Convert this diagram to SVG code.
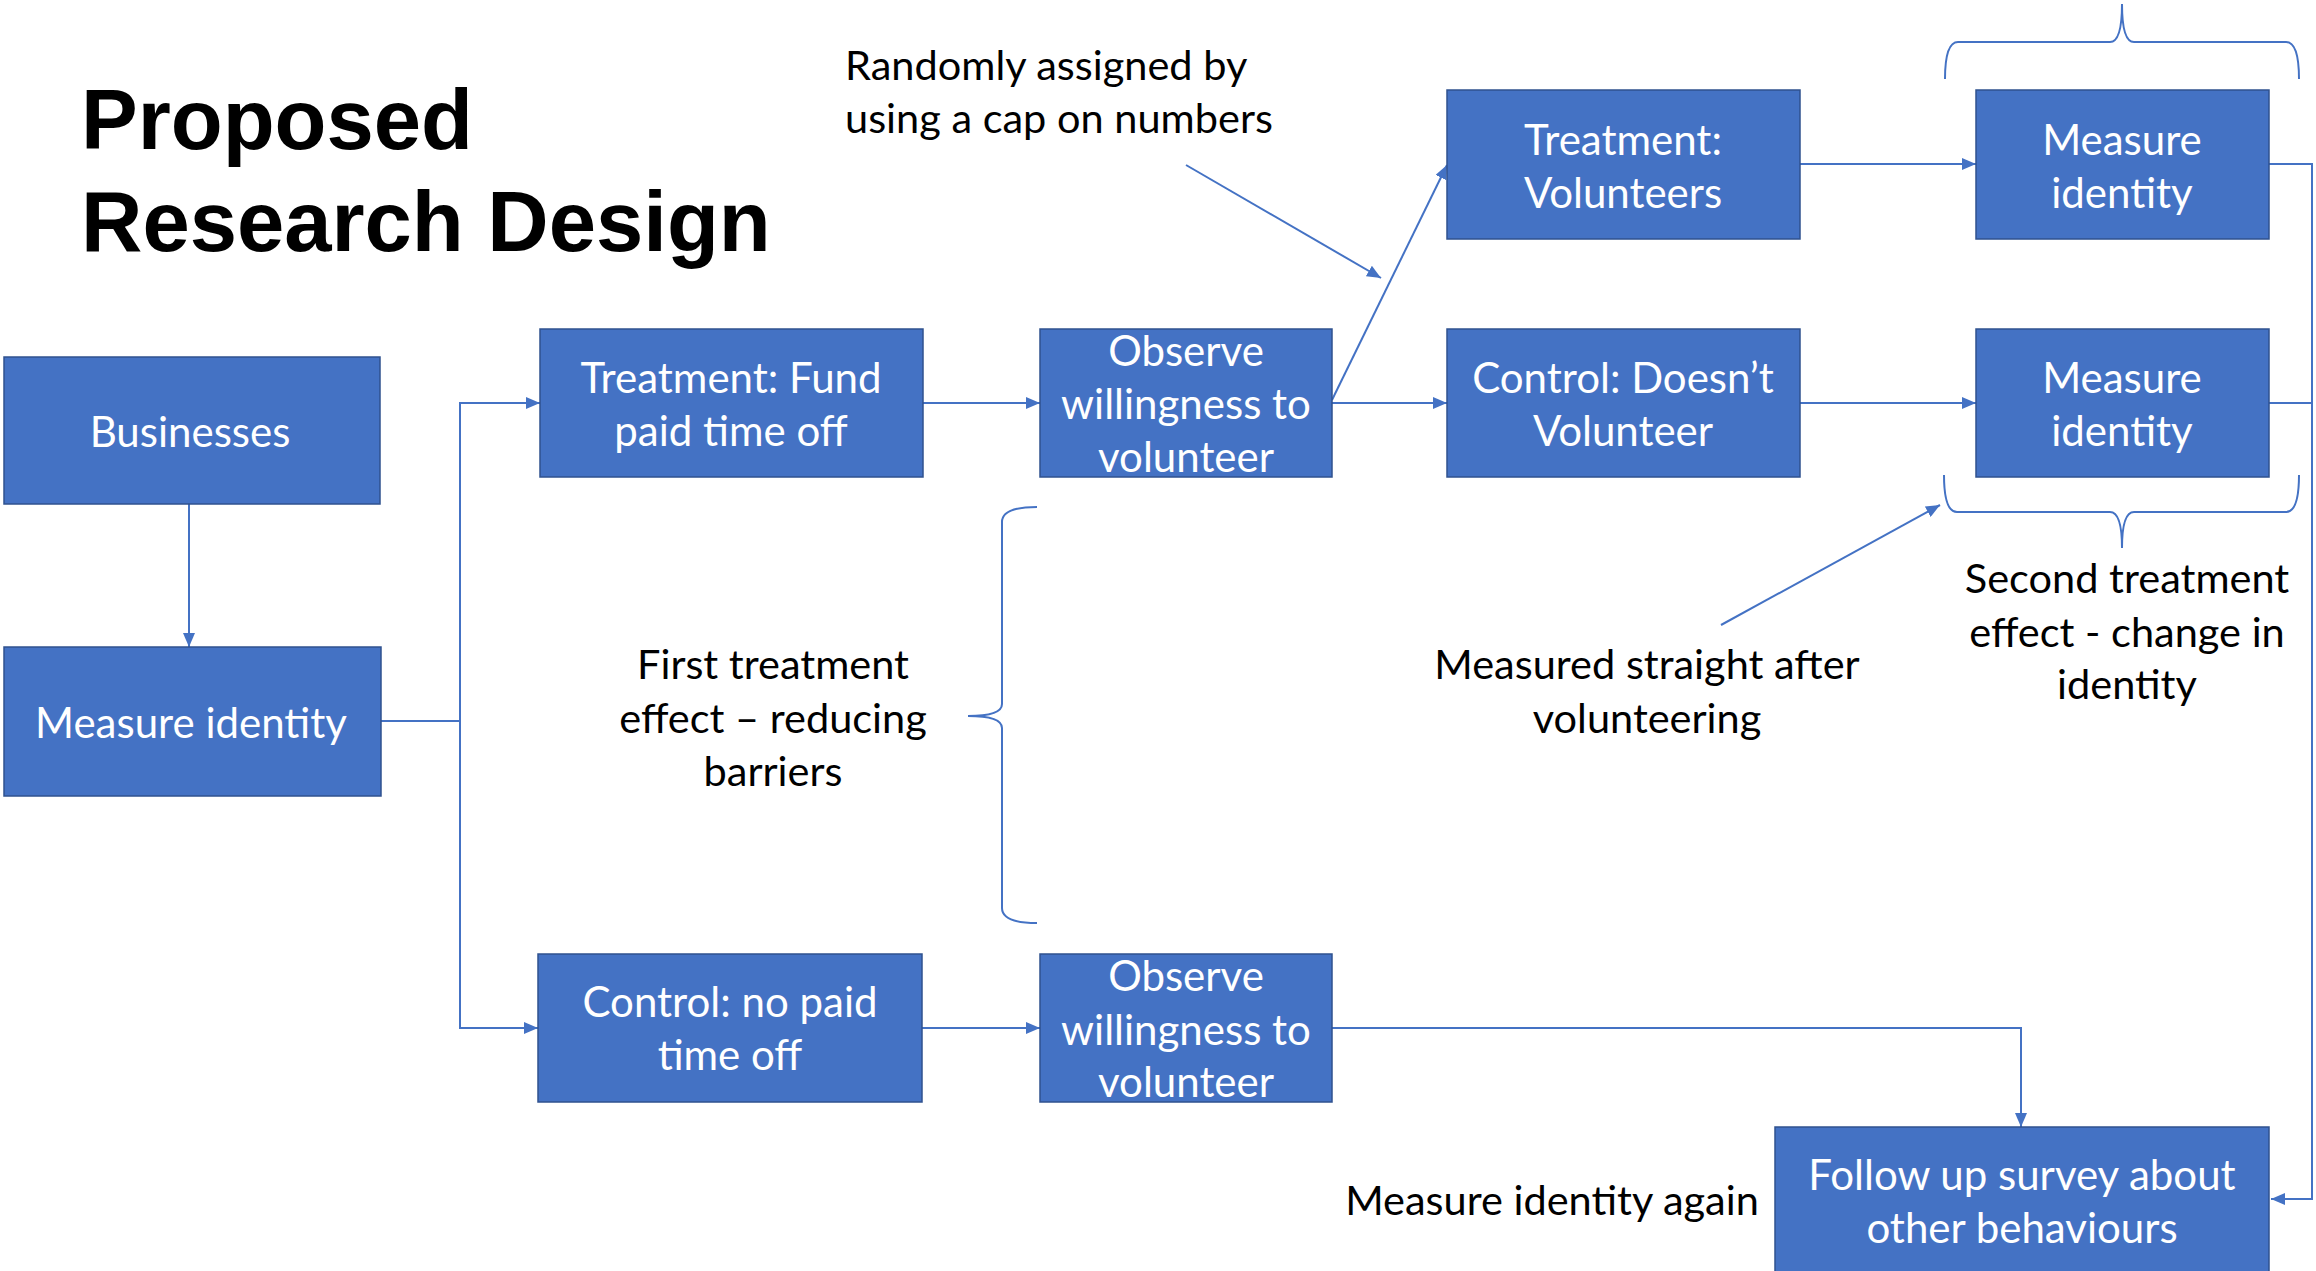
<svg xmlns="http://www.w3.org/2000/svg" width="2316" height="1271" viewBox="0 0 2316 1271">
<style>
.box{fill:#4472C4;stroke:#2F528F;stroke-width:1.5}
.bt{font-family:Lato,"Liberation Sans",sans-serif;font-size:42px;fill:#FFFFFF;text-anchor:middle}
.lb{font-family:Lato,"Liberation Sans",sans-serif;font-size:41.5px;fill:#000000;text-anchor:middle}
.title{font-family:"Liberation Sans",Arial,sans-serif;font-size:85px;font-weight:bold;fill:#000000}
.cn{fill:none;stroke:#4472C4;stroke-width:2}
.ar{marker-end:url(#ah)}
</style>
<defs>
<marker id="ah" viewBox="0 0 10 10" refX="10" refY="5" markerWidth="14" markerHeight="12" markerUnits="userSpaceOnUse" orient="auto" preserveAspectRatio="none"><path d="M0,0 L10,5 L0,10 z" fill="#4472C4"/></marker>
</defs>
<rect width="2316" height="1271" fill="#FFFFFF"/>
<g id="title">
<text class="title" x="81" y="149">Proposed</text>
<text class="title" x="81" y="251">Research Design</text>
</g>
<g id="connectors">
<path class="cn ar" d="M189,504 L189,647"/>
<path class="cn" d="M381,721 L460,721"/>
<path class="cn ar" d="M460,721 L460,403 L540,403"/>
<path class="cn ar" d="M460,721 L460,1028 L538,1028"/>
<path class="cn ar" d="M923,403 L1040,403"/>
<path class="cn ar" d="M922,1028 L1040,1028"/>
<path class="cn ar" d="M1332,403 L1447,403"/>
<path class="cn ar" d="M1332,400 L1447,165"/>
<path class="cn ar" d="M1186,165 L1381,278"/>
<path class="cn ar" d="M1800,164 L1976,164"/>
<path class="cn ar" d="M1800,403 L1976,403"/>
<path class="cn ar" d="M2269,164 L2312,164 L2312,1199 L2271,1199"/>
<path class="cn" d="M2269,403 L2312,403"/>
<path class="cn ar" d="M1332,1028 L2021,1028 L2021,1127"/>
<path class="cn ar" d="M1721,625 L1940,505"/>
<path class="cn" d="M1945,79 Q1945,42 1958,42 L2110,42 Q2122,42 2122,4 Q2122,42 2134,42 L2286,42 Q2299,42 2299,79"/>
<path class="cn" d="M1944,475 Q1944,512 1957,512 L2110,512 Q2122,512 2122,548 Q2122,512 2134,512 L2286,512 Q2299,512 2299,475"/>
<path class="cn" d="M1037,507 Q1002,507 1002,522 L1002,704 Q1002,716 968,716 Q1002,716 1002,728 L1002,908 Q1002,923 1037,923"/>
</g>
<g id="businesses">
<rect class="box" x="4" y="357" width="376" height="147"/>
<text class="bt" x="190" y="447">Businesses</text>
</g>
<g id="measure-identity-1">
<rect class="box" x="4" y="647" width="377" height="149"/>
<text class="bt" x="191" y="738">Measure identity</text>
</g>
<g id="treatment-fund">
<rect class="box" x="540" y="329" width="383" height="148"/>
<text class="bt" x="731" y="393">Treatment: Fund</text>
<text class="bt" x="731" y="446">paid time off</text>
</g>
<g id="observe-top">
<rect class="box" x="1040" y="329" width="292" height="148"/>
<text class="bt" x="1186" y="366">Observe</text>
<text class="bt" x="1186" y="419">willingness to</text>
<text class="bt" x="1186" y="472">volunteer</text>
</g>
<g id="treatment-volunteers">
<rect class="box" x="1447" y="90" width="353" height="149"/>
<text class="bt" x="1623" y="155">Treatment:</text>
<text class="bt" x="1623" y="208">Volunteers</text>
</g>
<g id="control-doesnt">
<rect class="box" x="1447" y="329" width="353" height="148"/>
<text class="bt" x="1623" y="393">Control: Doesn’t</text>
<text class="bt" x="1623" y="446">Volunteer</text>
</g>
<g id="measure-identity-2">
<rect class="box" x="1976" y="90" width="293" height="149"/>
<text class="bt" x="2122" y="155">Measure</text>
<text class="bt" x="2122" y="208">identity</text>
</g>
<g id="measure-identity-3">
<rect class="box" x="1976" y="329" width="293" height="148"/>
<text class="bt" x="2122" y="393">Measure</text>
<text class="bt" x="2122" y="446">identity</text>
</g>
<g id="control-no-paid">
<rect class="box" x="538" y="954" width="384" height="148"/>
<text class="bt" x="730" y="1017">Control: no paid</text>
<text class="bt" x="730" y="1070">time off</text>
</g>
<g id="observe-bottom">
<rect class="box" x="1040" y="954" width="292" height="148"/>
<text class="bt" x="1186" y="991">Observe</text>
<text class="bt" x="1186" y="1045">willingness to</text>
<text class="bt" x="1186" y="1097">volunteer</text>
</g>
<g id="follow-up">
<rect class="box" x="1775" y="1127" width="494" height="150"/>
<text class="bt" x="2022" y="1190">Follow up survey about</text>
<text class="bt" x="2022" y="1243">other behaviours</text>
</g>
<g id="labels">
<text class="lb" style="text-anchor:start" x="845" y="80">Randomly assigned by</text>
<text class="lb" style="text-anchor:start" x="845" y="133">using a cap on numbers</text>
<text class="lb" x="773" y="679">First treatment</text>
<text class="lb" x="773" y="733">effect – reducing</text>
<text class="lb" x="773" y="786">barriers</text>
<text class="lb" x="1647" y="679">Measured straight after</text>
<text class="lb" x="1647" y="733">volunteering</text>
<text class="lb" x="2127" y="593">Second treatment</text>
<text class="lb" x="2127" y="647">effect - change in</text>
<text class="lb" x="2127" y="699">identity</text>
<text class="lb" x="1552" y="1215">Measure identity again</text>
</g>
</svg>
